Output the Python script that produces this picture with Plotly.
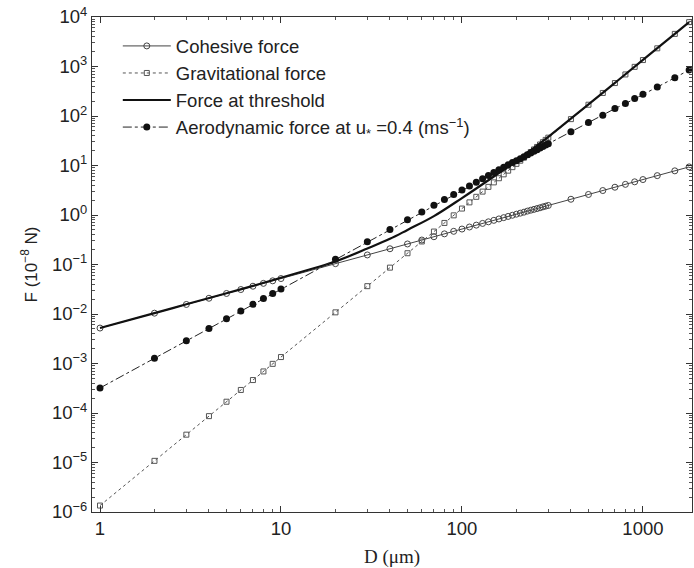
import plotly.graph_objects as go

# particle diameters (µm) for marker series
D = [1, 2, 3, 4, 5, 6, 7, 8, 9, 10,
     20, 30, 40, 50, 60, 70, 80, 90,
     100, 110, 120, 130, 140, 150, 160, 170, 180, 190, 200,
     210, 220, 230, 240, 250, 260, 270, 280, 290, 300,
     400, 500, 600, 700, 800, 900, 1000, 1200, 1500, 1800]

cohesive = [0.0052, 0.0104, 0.0156, 0.0208, 0.026, 0.0312, 0.0364, 0.0416, 0.0468, 0.052,
            0.104, 0.156, 0.208, 0.26, 0.312, 0.364, 0.416, 0.468,
            0.52, 0.572, 0.624, 0.676, 0.728, 0.78, 0.832, 0.884, 0.936, 0.988, 1.04,
            1.09, 1.14, 1.2, 1.25, 1.3, 1.35, 1.4, 1.46, 1.51, 1.56,
            2.08, 2.6, 3.12, 3.64, 4.16, 4.68, 5.2, 6.24, 7.8, 9.36]

gravitational = [1.35e-6, 1.08e-5, 3.65e-5, 8.64e-5, 1.69e-4, 2.92e-4, 4.63e-4, 6.91e-4, 9.84e-4, 1.35e-3,
                 0.0108, 0.0365, 0.0864, 0.169, 0.292, 0.463, 0.691, 0.984,
                 1.35, 1.80, 2.33, 2.97, 3.70, 4.56, 5.53, 6.63, 7.87, 9.26, 10.8,
                 12.5, 14.4, 16.4, 18.7, 21.1, 23.7, 26.6, 29.6, 32.9, 36.5,
                 86.4, 169, 292, 463, 691, 984, 1350, 2330, 4560, 7870]

aerodynamic = [3.2e-4, 1.28e-3, 2.88e-3, 5.12e-3, 8.0e-3, 0.01152, 0.01568, 0.02048, 0.02592, 0.032,
               0.128, 0.288, 0.512, 0.80, 1.152, 1.568, 2.048, 2.592,
               3.2, 3.87, 4.61, 5.41, 6.27, 7.2, 8.19, 9.25, 10.37, 11.55, 12.5,
               13.76, 15.08, 16.47, 17.9, 19.3, 20.9, 22.5, 24.1, 25.8, 27.5,
               48.2, 74.3, 104, 141, 178, 225, 274, 384, 592, 852]

# threshold curve
D_thr = [1, 2, 3, 5, 7, 10, 15, 20, 30, 40, 50, 70, 100, 150, 200, 300, 500, 700, 1000, 1500, 1800]
threshold = [0.0052, 0.0104, 0.0157, 0.0262, 0.037, 0.054, 0.083, 0.115, 0.21, 0.33, 0.5, 0.95,
             2.2, 6.0, 12.5, 38, 172, 467, 1355, 4570, 7880]

y_tickvals = [1e-6, 1e-5, 1e-4, 1e-3, 1e-2, 1e-1, 1, 10, 100, 1000, 10000]
y_ticktext = ["10<sup>\u22126</sup>", "10<sup>\u22125</sup>", "10<sup>\u22124</sup>", "10<sup>\u22123</sup>",
              "10<sup>\u22122</sup>", "10<sup>\u22121</sup>", "10<sup>0</sup>", "10<sup>1</sup>",
              "10<sup>2</sup>", "10<sup>3</sup>", "10<sup>4</sup>"]
x_tickvals = [1, 10, 100, 1000]
x_ticktext = ["1", "10", "100", "1000"]

x_minor = [m * 10 ** k for k in range(0, 3) for m in range(2, 10)]
y_minor = [m * 10.0 ** k for k in range(-6, 4) for m in range(2, 10)]

fig = go.Figure()
fig.add_trace(go.Scatter(
    x=D, y=cohesive, name="Cohesive force", mode="lines+markers",
    line=dict(color="#444444", width=1),
    marker=dict(symbol="circle-open", size=6, color="#444444", line=dict(width=1))))
fig.add_trace(go.Scatter(
    x=D, y=gravitational, name="Gravitational force", mode="lines+markers",
    line=dict(color="#555555", width=1, dash="dot"),
    marker=dict(symbol="square-open", size=5, color="#555555", line=dict(width=1))))
fig.add_trace(go.Scatter(
    x=D_thr, y=threshold, name="Force at threshold", mode="lines",
    line=dict(color="#111111", width=2.2, shape="spline")))
fig.add_trace(go.Scatter(
    x=D, y=aerodynamic, name="Aerodynamic force at u<sub>*</sub> =0.4 (ms<sup>\u22121</sup>)",
    mode="lines+markers",
    line=dict(color="#222222", width=1, dash="dashdot"),
    marker=dict(symbol="circle", size=7, color="#111111")))

fig.update_layout(
    width=694, height=568,
    margin=dict(l=92, r=2, t=17, b=56),
    paper_bgcolor="white", plot_bgcolor="white",
    font=dict(family="Liberation Sans, Arial, sans-serif", size=18, color="#222222"),
    showlegend=True,
    legend=dict(x=0.043, y=0.979, xanchor="left", yanchor="top",
                bgcolor="rgba(0,0,0,0)", font=dict(size=18.5, color="#222222"),
                itemwidth=48, tracegroupgap=0),
)
axis_common = dict(
    type="log", ticks="inside", ticklen=6, tickcolor="#333", showline=True,
    linecolor="#333", linewidth=1, mirror="allticks", showgrid=False, zeroline=False,
    tickfont=dict(size=18.5),
)
fig.update_xaxes(
    range=[-0.0442, 3.271], tickvals=x_tickvals, ticktext=x_ticktext,
    minor=dict(tickvals=x_minor, ticks="inside", ticklen=3, tickcolor="#555", showgrid=False),
    title=dict(text="D (\u03bcm)", font=dict(family="Liberation Serif, Times New Roman, serif", size=19), standoff=14),
    **axis_common,
)
fig.update_yaxes(
    range=[-6, 4], tickvals=y_tickvals, ticktext=y_ticktext,
    minor=dict(tickvals=y_minor, ticks="inside", ticklen=3, tickcolor="#555", showgrid=False),
    title=dict(text="F (10<sup>\u22128</sup> N)", font=dict(size=17), standoff=10),
    **axis_common,
)

fig.write_html("out.html")
